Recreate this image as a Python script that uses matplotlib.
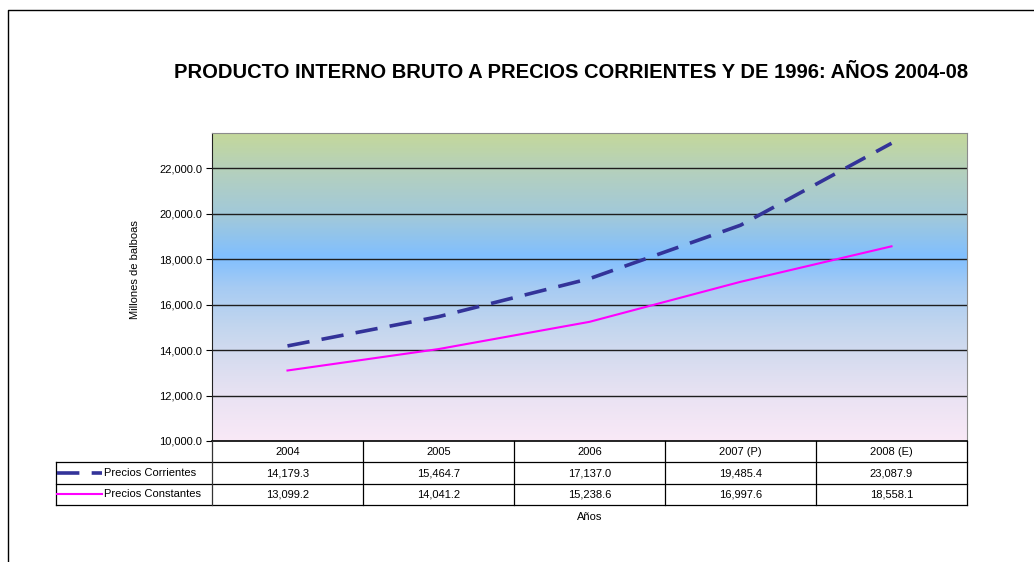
import numpy as np
import matplotlib
matplotlib.use("Agg")
import matplotlib.pyplot as plt
from matplotlib.colors import LinearSegmentedColormap
from matplotlib.lines import Line2D

plt.rcParams['font.family'] = ['Liberation Sans', 'DejaVu Sans']

# --- data ---
years = ['2004', '2005', '2006', '2007 (P)', '2008 (E)']
corrientes = [14179.3, 15464.7, 17137.0, 19485.4, 23087.9]
constantes = [13099.2, 14041.2, 15238.6, 16997.6, 18558.1]
series_names = ['Precios Corrientes', 'Precios Constantes']
yticks = [10000, 12000, 14000, 16000, 18000, 20000, 22000]

W, H = 1034, 562
fig = plt.figure(figsize=(W / 100, H / 100), dpi=100)

# figure border (cut off at right and bottom like the original)
fig.add_artist(Line2D([8 / W, 8 / W, 1.0], [0.0, 1 - 10 / H, 1 - 10 / H],
                      transform=fig.transFigure, color='black', lw=1))

# plot area
left, right, top, bottom = 212, 967, 133, 441
ax = fig.add_axes([left / W, 1 - bottom / H, (right - left) / W, (bottom - top) / H])
ymin, ymax = 10000, 23540
x = np.arange(len(years))
ax.set_xlim(-0.5, len(years) - 0.5)
ax.set_ylim(ymin, ymax)

# gradient background
stops = [(0.0, '#f9e9f7'), (0.13, '#ebe3f3'), (0.25, '#d9ddf0'), (0.37, '#c3d6ee'),
         (0.50, '#a6cbf3'), (0.60, '#80bfff'), (0.72, '#9fc8dd'), (0.86, '#b2cfc1'),
         (1.0, '#c4d89b')]
cmap = LinearSegmentedColormap.from_list('bg', stops)
grad = np.linspace(0, 1, 256).reshape(-1, 1)
ax.imshow(grad, cmap=cmap, origin='lower', aspect='auto',
          extent=(-0.5, len(years) - 0.5, ymin, ymax), zorder=0)

for yv in yticks[1:]:
    ax.axhline(yv, color='#1e1e1e', lw=1.0, zorder=1)

ax.plot(x, corrientes, color='#333399', lw=2.6, dashes=(6.2, 3.4),
        dash_capstyle='butt', zorder=3)
ax.plot(x, constantes, color='#ff00ff', lw=1.5, zorder=3)

ax.set_yticks(yticks)
ax.set_yticklabels([f'{v:,.1f}' for v in yticks], fontsize=8)
ax.set_xticks([])
ax.tick_params(axis='y', direction='out', length=4, width=0.8, pad=3)
for s in ['top', 'right']:
    ax.spines[s].set_color('#8c8c8c')
ax.spines['left'].set_color('#222222')
ax.spines['bottom'].set_visible(False)

# data table below the plot
tl, tt, tb = 55.7, 441, 505
tax = fig.add_axes([tl / W, 1 - tb / H, (right - tl) / W, (tb - tt) / H])
col_px = (right - left) / len(years)
x0 = -0.5 - (left - tl) / col_px
tax.set_xlim(x0, len(years) - 0.5)
tax.set_ylim(0, 3)
tax.axis('off')

lc = 'black'
tax.plot([-0.5, len(years) - 0.5], [3, 3], color=lc, lw=1.2, clip_on=False)
for yv in [2, 1, 0]:
    tax.plot([x0, len(years) - 0.5], [yv, yv], color=lc, lw=0.9, clip_on=False)
tax.plot([x0, x0], [0, 2], color=lc, lw=0.9, clip_on=False)
for i in range(len(years) + 1):
    tax.plot([i - 0.5, i - 0.5], [0, 3], color='#333333' if i == 0 else lc,
             lw=0.9, clip_on=False)

for i, yr in enumerate(years):
    tax.text(i, 2.5, yr, ha='center', va='center', fontsize=8)
    tax.text(i, 1.5, f'{corrientes[i]:,.1f}', ha='center', va='center', fontsize=8)
    tax.text(i, 0.5, f'{constantes[i]:,.1f}', ha='center', va='center', fontsize=8)

k0 = x0 + 1.3 / col_px
k1 = x0 + 46 / col_px
tax.plot([k0, k1], [1.5, 1.5], color='#333399', lw=2.6, dashes=(6.2, 3.4),
         dash_capstyle='butt')
tax.plot([k0, k1], [0.5, 0.5], color='#ff00ff', lw=1.5)
kt = x0 + 48 / col_px
tax.text(kt, 1.5, series_names[0], ha='left', va='center', fontsize=8)
tax.text(kt, 0.5, series_names[1], ha='left', va='center', fontsize=8)

# titles and labels
fig.text(571 / W, 1 - 73 / H,
         'PRODUCTO INTERNO BRUTO A PRECIOS CORRIENTES Y DE 1996: AÑOS 2004-08',
         ha='center', va='center', fontsize=14.5, fontweight='bold')
fig.text(135 / W, 1 - 270 / H, 'Millones de balboas', rotation=90,
         ha='center', va='center', fontsize=8)
fig.text(590 / W, 1 - 517 / H, 'Años', ha='center', va='center', fontsize=8)

fig.savefig('out.png', dpi=100)
